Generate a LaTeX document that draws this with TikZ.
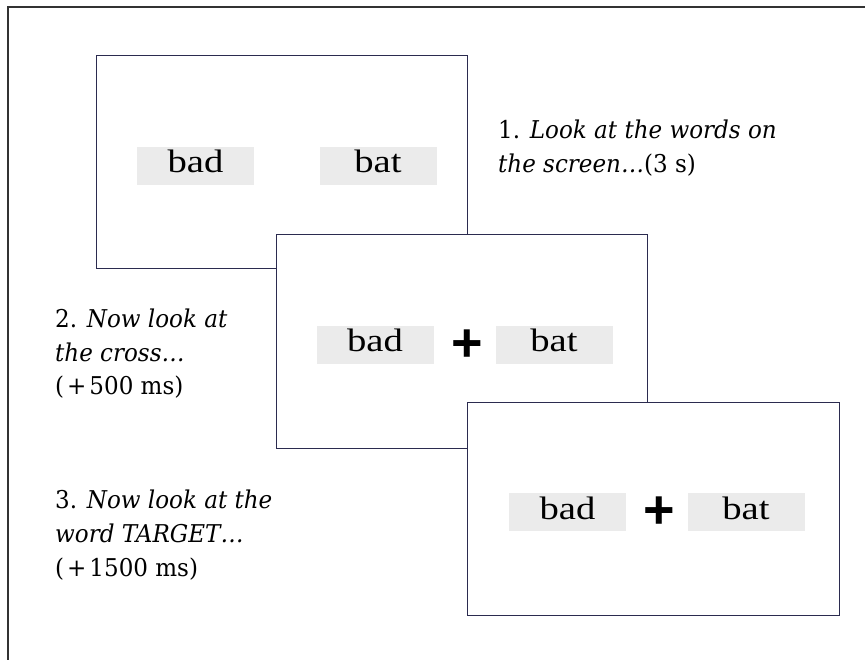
\documentclass[tikz,border=0pt]{standalone}
\usepackage{fontspec}
\setmainfont{Liberation Serif}
\newfontfamily\wordfont[FakeStretch=1.19]{Liberation Serif}
\newfontfamily\labelfont[FakeStretch=0.94]{DejaVu Serif}
\newfontfamily\plusfont{Liberation Sans}
\definecolor{framegray}{HTML}{333333}
\definecolor{screenline}{HTML}{2B2B4F}
\definecolor{wordbg}{HTML}{EBEBEB}
\tikzset{
  screen/.style={draw=screenline, line width=1pt, fill=white},
  wordbox/.style={fill=wordbg, draw=none, minimum width=117pt, minimum height=38pt, inner sep=0pt},
  wordtext/.style={anchor=base, inner sep=0pt, font=\wordfont\fontsize{32.5}{38}\selectfont},
  fixcross/.style={inner sep=0pt, font=\plusfont\bfseries\fontsize{54}{54}\selectfont},
  steplabel/.style={anchor=base west, inner sep=0pt, align=left, font=\labelfont\fontsize{24.5}{34}\selectfont}
}
\begin{document}
\begin{tikzpicture}[x=1pt,y=-1pt]
\useasboundingbox (0,0) rectangle (865,660);
% outer frame (cropped)
\coordinate (fbl) at (8,660);
\coordinate (ftl) at (8,7);
\coordinate (ftr) at (865,7);
\draw[framegray, line width=1.5pt] (fbl) -- (ftl) -- (ftr);

% screen 1
\node[screen, minimum width=371pt, minimum height=213pt, anchor=north west, inner sep=0pt] (s1) at (96,55) {};
\node[wordbox] (w1a) at (195.5,166) {};
\node[wordbox] (w1b) at (378,166) {};
\node[wordtext] (t1a) at (195.5,173) {bad};
\node[wordtext] (t1b) at (378,173) {bat};

% screen 2
\node[screen, minimum width=371pt, minimum height=214pt, anchor=north west, inner sep=0pt] (s2) at (276,234) {};
\node[wordbox] (w2a) at (375,345) {};
\node[wordbox] (w2b) at (554,345) {};
\node[wordtext] (t2a) at (375,352) {bad};
\node[wordtext] (t2b) at (554,352) {bat};
\node[fixcross] (c2) at (467.5,345.5) {+};

% screen 3
\node[screen, minimum width=372pt, minimum height=213pt, anchor=north west, inner sep=0pt] (s3) at (467,402) {};
\node[wordbox] (w3a) at (567.5,512) {};
\node[wordbox] (w3b) at (746,512) {};
\node[wordtext] (t3a) at (567.5,519) {bad};
\node[wordtext] (t3b) at (746,519) {bat};
\node[fixcross] (c3) at (659.5,512.5) {+};

% labels (base anchor = last line's baseline)
\node[steplabel] (l1) at (498,173) {1. \textit{Look at the words on}\\\textit{the screen\ldots}(3 s)};
\node[steplabel] (l2) at (55,395) {2. \textit{Now look at}\\\textit{the cross\ldots}\\(\kern3pt+\kern3pt500 ms)};
\node[steplabel] (l3) at (55,576) {3. \textit{Now look at the}\\\textit{word TARGET\ldots}\\(\kern3pt+\kern3pt1500 ms)};
\end{tikzpicture}
\end{document}
